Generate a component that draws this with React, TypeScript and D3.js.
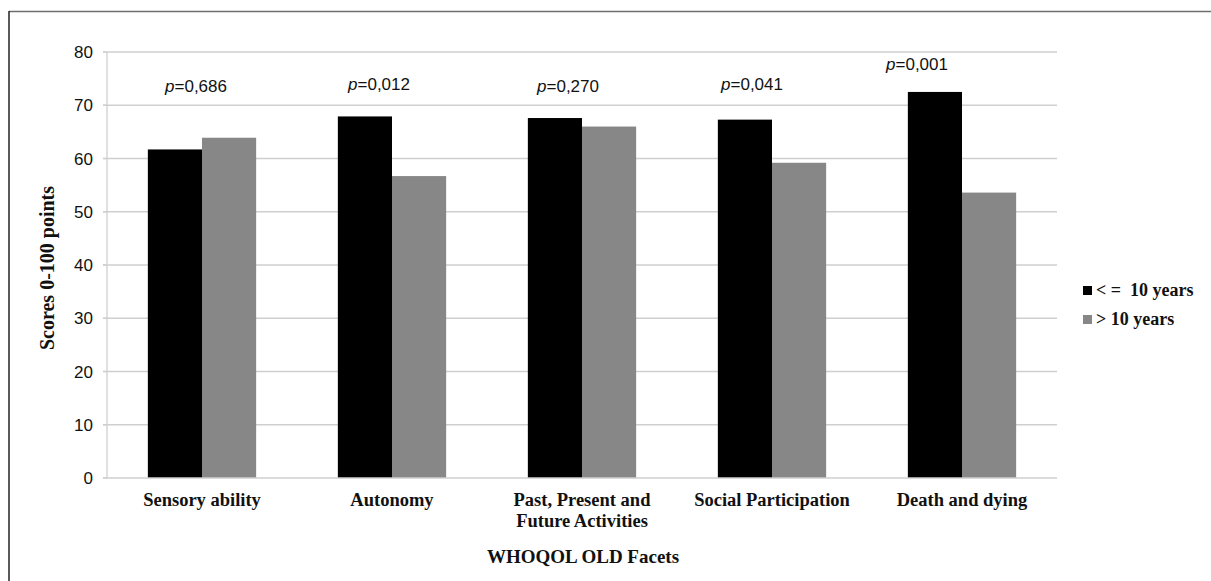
import React from "react";
import * as d3 from "d3";

const categories: string[][] = [
  ["Sensory ability"],
  ["Autonomy"],
  ["Past, Present and", "Future Activities"],
  ["Social Participation"],
  ["Death and dying"],
];
const seriesNames = ["< =  10 years", "> 10 years"];
const under10 = [61.7, 67.9, 67.6, 67.3, 72.5];
const over10 = [63.9, 56.7, 66.0, 59.2, 53.6];
const pValues = ["0,686", "0,012", "0,270", "0,041", "0,001"];
const yTicks = [0, 10, 20, 30, 40, 50, 60, 70, 80];
// annotation placement of the p labels (value units / pixel offsets)
const pLabelLevel = [72.5, 72.9, 72.5, 72.9, 76.7];
const pLabelDx = [-6, -13, -14, -20, -45];

const W = 1211;
const H = 581;
const colors = ["#000000", "#878787"];
const serif = "'Liberation Serif', 'DejaVu Serif', serif";
const sans = "'Liberation Sans', Arial, sans-serif";

export default function App() {
  const left = 107;
  const right = 1057;
  const top = 52;
  const bottom = 478;
  const idx = categories.map((_, i) => String(i));
  const x = d3.scaleBand<string>().domain(idx).range([left, right]).paddingInner(0.43).paddingOuter(0.215);
  const y = d3.scaleLinear().domain([0, 80]).range([bottom, top]);
  const bw = x.bandwidth() / 2;
  const series = [under10, over10];

  return (
    <svg width={W} height={H} style={{ position: "fixed", left: 0, top: 0, background: "#fff" }}>
      <rect x={0} y={0} width={W} height={H} fill="#fff" />
      {/* frame */}
      <line x1={9} x2={W} y1={11.5} y2={11.5} stroke="#6e6e6e" strokeWidth={1.5} />
      <line x1={9} x2={9} y1={11} y2={H} stroke="#222" strokeWidth={1.5} />
      {/* gridlines + ticks */}
      {yTicks.map((t) => (
        <g key={t}>
          {t > 0 && <line x1={left - 4} x2={right} y1={y(t)} y2={y(t)} stroke="#cfcfcf" strokeWidth={1.3} />}
          <line x1={left - 4} x2={left} y1={y(t)} y2={y(t)} stroke="#cfcfcf" strokeWidth={1.3} />
          <text x={left - 14} y={y(t)} dy="0.36em" textAnchor="end" fontFamily={sans} fontSize={17} fill="#111">
            {t}
          </text>
        </g>
      ))}
      {/* bars */}
      {series.map((s, si) =>
        s.map((v, i) => (
          <rect
            key={`${si}-${i}`}
            x={(x(String(i)) as number) + si * bw}
            y={y(v)}
            width={bw}
            height={y(0) - y(v)}
            fill={colors[si]}
          />
        ))
      )}
      {/* axes */}
      <line x1={left} x2={left} y1={top} y2={bottom} stroke="#cfcfcf" strokeWidth={1.3} />
      <line x1={left - 4} x2={right} y1={bottom} y2={bottom} stroke="#cfcfcf" strokeWidth={1.3} />
      {/* p labels */}
      {pValues.map((p, i) => (
        <text
          key={p}
          x={(x(String(i)) as number) + x.bandwidth() / 2 + pLabelDx[i]}
          y={y(pLabelLevel[i])}
          textAnchor="middle"
          fontFamily={sans}
          fontSize={17}
          fill="#111"
        >
          <tspan fontStyle="italic">p</tspan>={p}
        </text>
      ))}
      {/* category labels */}
      {categories.map((lines, i) => (
        <text
          key={i}
          x={(x(String(i)) as number) + x.bandwidth() / 2}
          y={506}
          textAnchor="middle"
          fontFamily={serif}
          fontWeight="bold"
          fontSize={18.5}
          fill="#111"
        >
          {lines.map((l, j) => (
            <tspan key={j} x={(x(String(i)) as number) + x.bandwidth() / 2} dy={j === 0 ? 0 : 21}>
              {l}
            </tspan>
          ))}
        </text>
      ))}
      {/* axis titles */}
      <text x={(left + right) / 2 + 1} y={563} textAnchor="middle" fontFamily={serif} fontWeight="bold" fontSize={19} fill="#111">
        WHOQOL OLD Facets
      </text>
      <text
        transform={`translate(54, ${(top + bottom) / 2 + 3}) rotate(-90)`}
        textAnchor="middle"
        fontFamily={serif}
        fontWeight="bold"
        fontSize={20}
        fill="#111"
      >
        Scores 0-100 points
      </text>
      {/* legend */}
      {seriesNames.map((n, i) => (
        <g key={n} transform={`translate(1083, ${286 + i * 29})`}>
          <rect x={0} y={0} width={9} height={9} fill={colors[i]} />
          <text x={13} y={10} fontFamily={serif} fontWeight="bold" fontSize={18} fill="#111" style={{ whiteSpace: "pre" }}>
            {n}
          </text>
        </g>
      ))}
    </svg>
  );
}
